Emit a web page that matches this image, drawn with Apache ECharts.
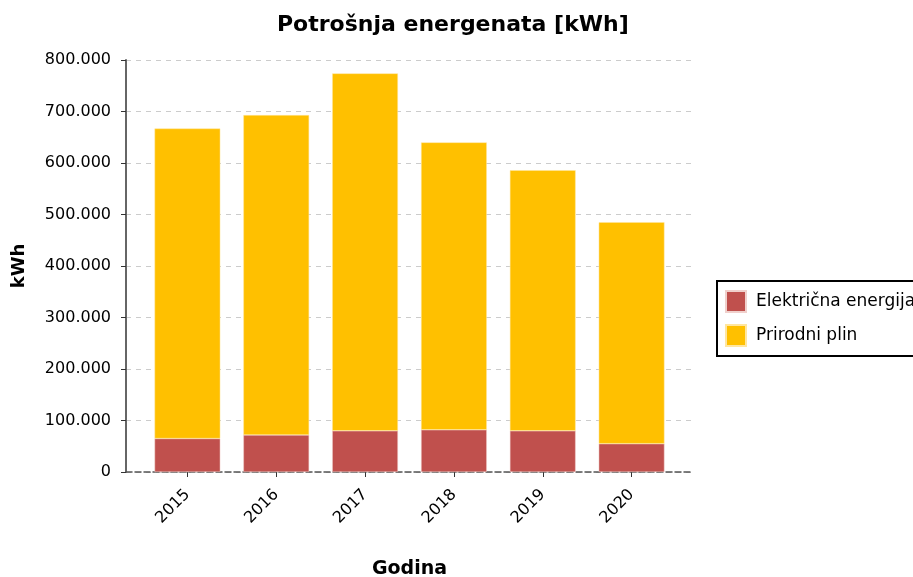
<!DOCTYPE html>
<html>
<head>
<meta charset="utf-8">
<script src="https://cdn.jsdelivr.net/npm/echarts@6/dist/echarts.min.js"></script>
<style>
  html, body { margin: 0; padding: 0; background: #fff; }
  #chart { width: 913px; height: 577px; }
</style>
</head>
<body>
<div id="chart"></div>
<script>
var godine = ['2015', '2016', '2017', '2018', '2019', '2020'];
var elektricna = [65000, 72000, 80000, 82000, 80000, 55000];
var plin = [602000, 621000, 694000, 558000, 506000, 430000];

function fmt(v) {
    return String(v).replace(/\B(?=(\d{3})+(?!\d))/g, '.');
}

var myChart = echarts.init(document.getElementById('chart'));
var option = {
    animation: false,
    textStyle: { fontFamily: 'DejaVu Sans' },
    title: {
        text: 'Potrošnja energenata [kWh]',
        left: 272,
        top: 9,
        textStyle: { fontFamily: 'DejaVu Sans', fontSize: 22, fontWeight: 'bold', color: '#000' }
    },
    legend: {
        orient: 'vertical',
        left: 717,
        top: 281,
        padding: [9, 10, 9, 8],
        itemGap: 11,
        itemWidth: 20,
        itemHeight: 21,
        borderColor: '#000',
        borderWidth: 2,
        icon: 'rect',
        textStyle: { fontFamily: 'DejaVu Sans', fontSize: 17, color: '#000', padding: [0, 0, 0, 5] },
        data: ['Električna energija', 'Prirodni plin']
    },
    // grid 0: full plot area (y axis, grid lines, baseline); grid 1: categories with side margins
    grid: [
        { left: 126, top: 60, width: 567, height: 412, containLabel: false, outerBoundsMode: 'none' },
        { left: 143, top: 60, width: 533, height: 412, containLabel: false, outerBoundsMode: 'none' }
    ],
    xAxis: [
        {
            gridIndex: 0,
            type: 'value',
            min: 0,
            max: 1,
            axisLine: { show: true, onZero: false, lineStyle: { color: '#555', type: 'dashed', width: 1.5 } },
            axisTick: { show: false },
            axisLabel: { show: false },
            splitLine: { show: false }
        },
        {
            gridIndex: 1,
            type: 'category',
            data: godine,
            name: 'Godina',
            nameLocation: 'middle',
            nameGap: 88,
            nameTextStyle: { fontFamily: 'DejaVu Sans', fontSize: 19, fontWeight: 'bold', color: '#000' },
            axisLine: { show: false },
            axisTick: { show: true, alignWithLabel: true, length: 5, lineStyle: { color: '#333' } },
            axisLabel: { rotate: 45, fontSize: 16, color: '#000', margin: 20, padding: [11, 0, 0, 0] }
        }
    ],
    yAxis: [
        {
            gridIndex: 0,
            type: 'value',
            min: 0,
            max: 800000,
            interval: 100000,
            name: 'kWh',
            nameLocation: 'middle',
            nameGap: 98,
            nameTextStyle: { fontFamily: 'DejaVu Sans', fontSize: 18, fontWeight: 'bold', color: '#000' },
            axisLine: { show: true, lineStyle: { color: '#666', width: 2 } },
            axisTick: { show: true, length: 5, lineStyle: { color: '#333' } },
            axisLabel: {
                fontSize: 16, color: '#000', margin: 15,
                formatter: function (v) { return fmt(v); }
            },
            splitLine: { show: true, lineStyle: { color: '#ccc', type: [5, 5] } }
        },
        {
            gridIndex: 1,
            type: 'value',
            min: 0,
            max: 800000,
            interval: 100000,
            show: false,
            splitLine: { show: false }
        }
    ],
    series: [
        {
            name: 'Električna energija',
            type: 'bar',
            xAxisIndex: 1,
            yAxisIndex: 1,
            stack: 'ukupno',
            barWidth: '74%',
            data: elektricna,
            itemStyle: { color: '#c0504d', borderColor: '#f0d0cc', borderWidth: 0.5 }
        },
        {
            name: 'Prirodni plin',
            type: 'bar',
            xAxisIndex: 1,
            yAxisIndex: 1,
            stack: 'ukupno',
            data: plin,
            itemStyle: { color: '#ffc000', borderColor: '#ffe6a0', borderWidth: 0.5 }
        }
    ]
};
myChart.setOption(option);
</script>
</body>
</html>
